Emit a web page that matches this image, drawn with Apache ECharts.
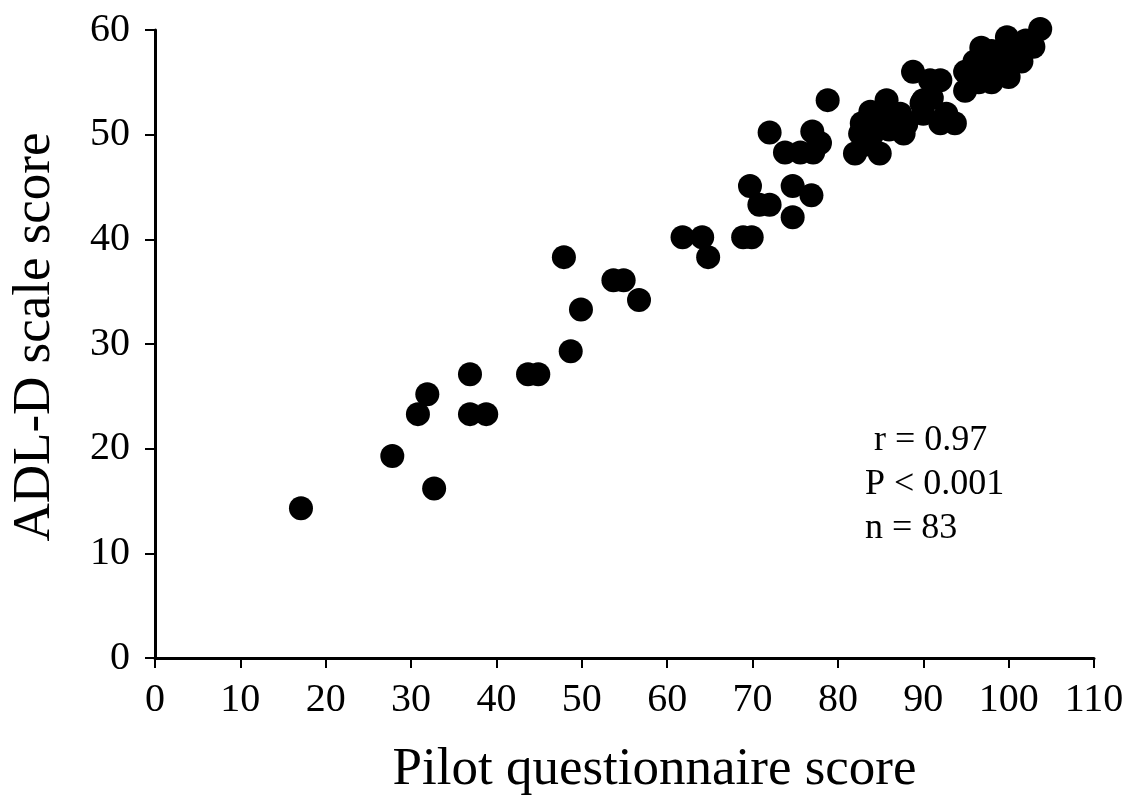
<!DOCTYPE html>
<html>
<head>
<meta charset="utf-8">
<script src="https://cdn.jsdelivr.net/npm/echarts@6/dist/echarts.min.js"></script>
<style>html,body{margin:0;padding:0;background:#fff;}#c{width:1130px;height:796px;}</style>
</head>
<body>
<div id="c"></div>
<script>
var pilotScore = [17.1,27.8,32.7,30.8,31.9,36.9,36.9,38.8,43.7,44.9,48.7,49.9,47.9,53.7,54.9,56.7,61.8,64.1,64.8,68.9,69.9,74.7,69.7,70.8,72.0,74.7,76.9,72.0,73.8,75.6,77.1,77.0,77.9,78.8,82.0,84.9,82.8,82.6,83.8,85.7,87.7,87.3,84.9,88.8,90.0,90.0,92.0,90.8,92.0,92.7,93.7,94.9,94.9,96.8,98.0,99.8,100.5,101.7,102.9,103.7,
  86.0,85.5,88.0,86.5,84.0,83.0,89.8,91.0,95.5,96.0,97.0,97.5,98.0,98.5,99.0,99.5,100.0,100.5,101.0,101.5,102.0,96.5,97.0];
var adlScore = [14.3,19.3,16.2,23.3,25.2,27.1,23.3,23.3,27.1,27.1,29.3,33.3,38.3,36.1,36.1,34.2,40.2,40.2,38.3,40.2,40.2,42.1,45.1,43.3,43.3,45.1,44.2,50.2,48.3,48.3,48.3,50.3,49.2,53.3,48.2,48.2,51.1,50.1,52.2,53.3,50.1,52.0,51.4,56.0,53.3,52.0,55.2,55.2,51.1,52.0,51.1,54.2,56.0,58.3,55.0,59.3,56.9,58.8,58.4,60.1,
  50.5,52.0,51.0,51.0,50.0,49.0,53.0,53.5,55.5,57.0,56.0,57.5,58.0,56.5,57.0,58.0,55.5,58.5,57.5,57.0,59.0,55.0,58.0];
var xTicks = [0,10,20,30,40,50,60,70,80,90,100,110];
var yTicks = [0,10,20,30,40,50,60];
var statsLines = [' r = 0.97','P < 0.001','n = 83'];

var points = pilotScore.map(function(v,i){return [v, adlScore[i]];});
var font = 'Liberation Serif, Times New Roman, serif';
var chart = echarts.init(document.getElementById('c'));
chart.setOption({
  animation:false,
  backgroundColor:'#fff',
  grid:{left:155,right:36,top:30,bottom:138,containLabel:false,outerBoundsMode:'none'},
  xAxis:{type:'value',min:xTicks[0],max:xTicks[xTicks.length-1],interval:10,
    name:'Pilot questionnaire score',nameLocation:'middle',nameGap:86,
    nameTextStyle:{fontFamily:font,fontSize:53,color:'#000',padding:[0,0,0,60]},
    axisLine:{show:true,lineStyle:{color:'#000',width:3}},
    axisTick:{show:true,length:10,lineStyle:{color:'#000',width:2}},
    axisLabel:{fontFamily:font,fontSize:40,color:'#000',margin:22,hideOverlap:false,showMinLabel:true,showMaxLabel:true},
    splitLine:{show:false}},
  yAxis:{type:'value',min:yTicks[0],max:yTicks[yTicks.length-1],interval:10,
    name:'ADL-D scale score',nameLocation:'middle',nameGap:93,
    nameTextStyle:{fontFamily:font,fontSize:53,color:'#000',padding:[0,0,0,14]},
    axisLine:{show:true,lineStyle:{color:'#000',width:3}},
    axisTick:{show:true,length:10,lineStyle:{color:'#000',width:2}},
    axisLabel:{fontFamily:font,fontSize:40,color:'#000',margin:25,showMinLabel:true,showMaxLabel:true},
    splitLine:{show:false}},
  series:[{type:'scatter',data:points,symbol:'circle',symbolSize:24,clip:false,
    itemStyle:{color:'#000',opacity:1}}],
  graphic:statsLines.map(function(t,i){
    return {type:'text',left:865,top:423+i*44,style:{text:t,fontFamily:font,fontSize:36,fill:'#000'}};
  })
});
</script>
</body>
</html>
